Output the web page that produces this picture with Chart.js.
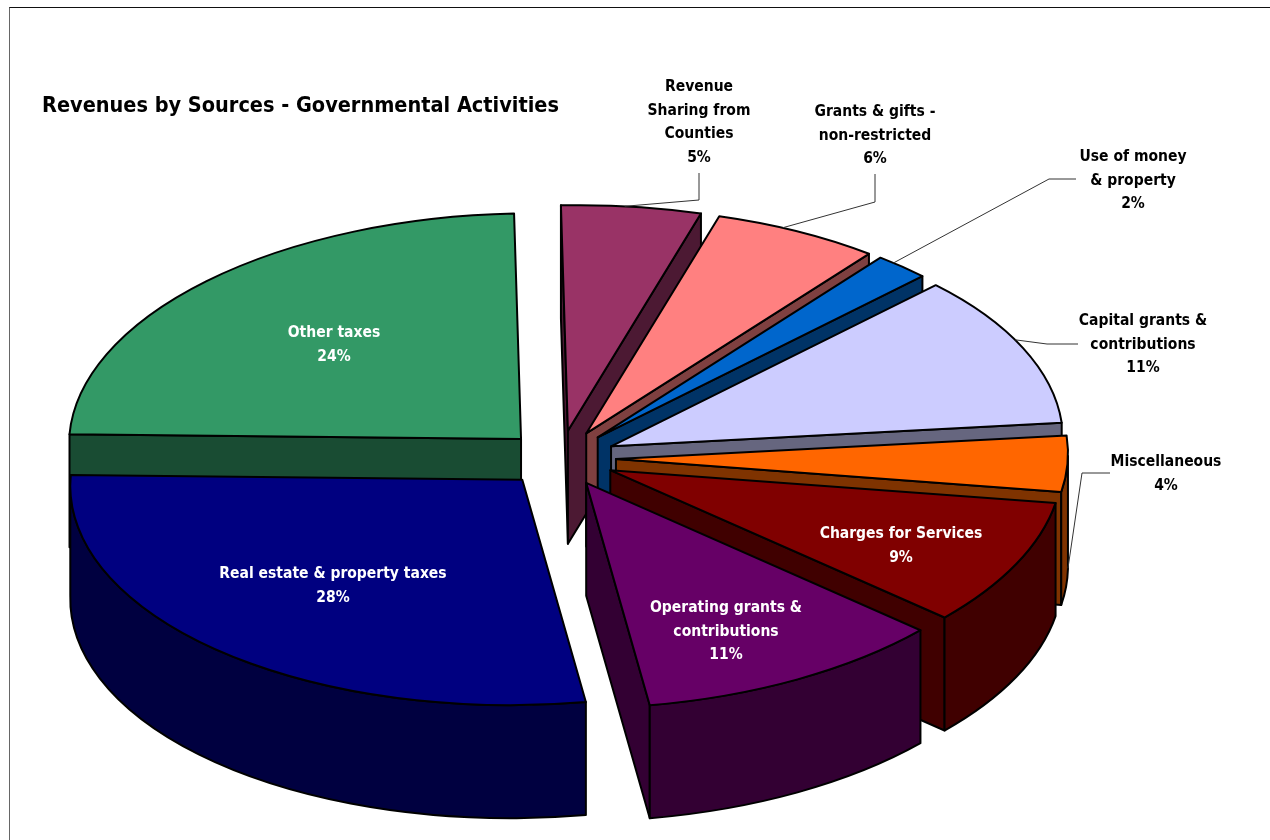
<!DOCTYPE html>
<html lang="en">
<head>
    <meta charset="UTF-8">
    <title>Revenues by Sources - Governmental Activities</title>
    <script src="https://cdn.jsdelivr.net/npm/chart.js"></script>
    <style>
        html, body { margin: 0; padding: 0; background: #fff; overflow: hidden; }
        #wrap { position: relative; width: 1270px; height: 840px; }
        #frame { position: absolute; left: 9px; top: 7px; right: 0; bottom: 0;
                 border-left: 1px solid #666; border-top: 1px solid #111; }
        canvas { position: absolute; left: 0; top: 0; }
    </style>
</head>
<body>
    <div id="wrap">
        <div id="frame"></div>
        <canvas id="revenueChart" width="1270" height="840"></canvas>
    </div>

    <script>
        const chartTitle = 'Revenues by Sources - Governmental Activities';
        const sources = [
            'Real estate & property taxes', 'Other taxes', 'Revenue Sharing from Counties',
            'Grants & gifts - non-restricted', 'Use of money & property',
            'Capital grants & contributions', 'Miscellaneous', 'Charges for Services',
            'Operating grants & contributions'
        ];
        const percents = [28, 24, 5, 6, 2, 11, 4, 9, 11];
        const sliceColors = ['#000080', '#339966', '#993366', '#FF8080', '#0066CC',
                             '#CCCCFF', '#FF6600', '#800000', '#660066'];
        const labelLines = [
            ['Real estate & property taxes'], ['Other taxes'], ['Revenue', 'Sharing from', 'Counties'],
            ['Grants & gifts -', 'non-restricted'], ['Use of money', '& property'],
            ['Capital grants &', 'contributions'], ['Miscellaneous'], ['Charges for Services'],
            ['Operating grants &', 'contributions']
        ];

        // where each label block goes (centre x, first line y), white ones sit on the slice.
        // along = how far round the slice's rim the leader line starts
        const labelSpots = [
            { x: 333, y: 574, inside: true }, { x: 334, y: 333, inside: true },
            { x: 699, y: 87, along: 0.45, elbow: [[699, 200], [699, 173]] },
            { x: 875, y: 112, along: 0.4, elbow: [[875, 202], [875, 174]] },
            { x: 1133, y: 157, along: 0.3, elbow: [[1049, 179], [1076, 179]] },
            { x: 1143, y: 321, along: 0.44, elbow: [[1047, 344], [1078, 344]] },
            { x: 1166, y: 462, along: 0.35, elbow: [[1082, 473], [1110, 473]], onBase: true },
            { x: 901, y: 534, inside: true },
            { x: 726, y: 608, inside: true }
        ];

        const pieX = 560, pieY = 458.5;
        const pieRadius = 452, depth = 113, explode = 56;
        // flat disc to screen: x' = x + tiltX * y, y' = tiltY * x + squash * y
        const squash = 0.499, tiltX = -0.0125, tiltY = -0.007;
        const lineGap = 23.5;
        const labelFont = 'bold 15.5px "DejaVu Sans Condensed"';

        function halfTone(hex) {
            const n = parseInt(hex.slice(1), 16);
            const r = (n >> 16) >> 1, g = ((n >> 8) & 255) >> 1, b = (n & 255) >> 1;
            return `rgb(${r}, ${g}, ${b})`;
        }

        function midAngle(arc) {
            return (arc.startAngle + arc.endAngle) / 2;
        }

        function flatten(angle, radius) {
            const u = Math.cos(angle) * radius, v = Math.sin(angle) * radius;
            return { x: u + tiltX * v, y: tiltY * u + squash * v };
        }

        // apex of an exploded slice in screen space
        function apexOf(arc) {
            const shift = flatten(midAngle(arc), explode);
            return { x: pieX + shift.x, y: pieY + shift.y };
        }

        function rimPoint(arc, angle, drop) {
            const apex = apexOf(arc);
            const rim = flatten(angle, arc.outerRadius);
            return { x: apex.x + rim.x, y: apex.y + rim.y + drop };
        }

        // sets up the flattened disc space with the given point as origin
        function discSpace(ctx, origin, drop) {
            ctx.transform(1, tiltY, tiltX, squash, origin.x, origin.y + drop);
        }

        function paintPath(ctx, fill) {
            ctx.fillStyle = fill;
            ctx.fill();
            ctx.stroke();
        }

        function drawRadialFace(ctx, arc, angle, fill) {
            const apex = apexOf(arc);
            const rim = rimPoint(arc, angle, 0);
            ctx.beginPath();
            ctx.moveTo(apex.x, apex.y);
            ctx.lineTo(rim.x, rim.y);
            ctx.lineTo(rim.x, rim.y + depth);
            ctx.lineTo(apex.x, apex.y + depth);
            ctx.closePath();
            paintPath(ctx, fill);
        }

        // curved outer wall, only the part that faces the viewer
        function drawOuterWall(ctx, arc, fill) {
            const apex = apexOf(arc);
            for (let k = -1; k <= 2; k++) {
                const from = Math.max(arc.startAngle, k * 2 * Math.PI);
                const to = Math.min(arc.endAngle, k * 2 * Math.PI + Math.PI);
                if (to <= from) continue;
                ctx.beginPath();
                ctx.save();
                discSpace(ctx, apex, 0);
                ctx.arc(0, 0, arc.outerRadius, from, to);
                ctx.restore();
                ctx.save();
                discSpace(ctx, apex, depth);
                ctx.arc(0, 0, arc.outerRadius, to, from, true);
                ctx.restore();
                ctx.closePath();
                paintPath(ctx, fill);
            }
        }

        function outlineTop(ctx, arc) {
            ctx.beginPath();
            ctx.save();
            discSpace(ctx, apexOf(arc), 0);
            ctx.moveTo(0, 0);
            ctx.arc(0, 0, arc.outerRadius, arc.startAngle, arc.endAngle);
            ctx.closePath();
            ctx.restore();
            ctx.stroke();
        }

        const solidPie = {
            id: 'solidPie',
            beforeDatasetDraw(chart, args) {
                const ctx = chart.ctx;
                const arcs = args.meta.data.map((arc, i) => ({ arc, i }));
                // back slices first so the front ones cover them
                arcs.sort((a, b) => Math.sin(midAngle(a.arc)) - Math.sin(midAngle(b.arc)));

                ctx.save();
                ctx.strokeStyle = '#000';
                ctx.lineWidth = 2;
                ctx.lineJoin = 'round';
                arcs.forEach(({ arc, i }) => {
                    const wall = halfTone(sliceColors[i]);
                    // a cut face only shows when it turns towards the viewer
                    if (Math.cos(arc.startAngle) < 0) drawRadialFace(ctx, arc, arc.startAngle, wall);
                    if (Math.cos(arc.endAngle) > 0) drawRadialFace(ctx, arc, arc.endAngle, wall);
                    drawOuterWall(ctx, arc, wall);

                    ctx.save();
                    discSpace(ctx, apexOf(arc), 0);
                    ctx.translate(-arc.x, -arc.y);
                    arc.draw(ctx);
                    ctx.restore();
                    outlineTop(ctx, arc);
                });
                ctx.restore();
                return false;
            },
            afterDraw(chart) {
                const ctx = chart.ctx;
                const arcs = chart.getDatasetMeta(0).data;
                ctx.save();

                ctx.strokeStyle = '#333';
                ctx.lineWidth = 1;
                labelSpots.forEach((spot, i) => {
                    if (!spot.elbow) return;
                    const arc = arcs[i];
                    const angle = arc.startAngle + (arc.endAngle - arc.startAngle) * spot.along;
                    const start = rimPoint(arc, angle, spot.onBase ? depth : 0);
                    ctx.beginPath();
                    ctx.moveTo(start.x, start.y);
                    spot.elbow.forEach(p => ctx.lineTo(p[0], p[1]));
                    ctx.stroke();
                });

                ctx.textAlign = 'center';
                ctx.textBaseline = 'middle';
                ctx.font = labelFont;
                labelSpots.forEach((spot, i) => {
                    ctx.fillStyle = spot.inside ? '#fff' : '#000';
                    labelLines[i].concat(percents[i] + '%').forEach((line, n) => {
                        ctx.fillText(line, spot.x, spot.y + n * lineGap);
                    });
                });

                ctx.textAlign = 'left';
                ctx.fillStyle = '#000';
                ctx.font = 'bold 21.5px "DejaVu Sans Condensed"';
                ctx.fillText(chartTitle, 42, 106);
                ctx.restore();
            }
        };

        new Chart(document.getElementById('revenueChart'), {
            type: 'pie',
            data: {
                labels: sources,
                datasets: [{
                    data: percents,
                    backgroundColor: sliceColors,
                    borderWidth: 0
                }]
            },
            options: {
                responsive: false,
                animation: false,
                radius: pieRadius,
                rotation: 171.2,
                layout: { padding: { right: 1270 - 2 * pieX } },
                plugins: {
                    legend: { display: false },
                    tooltip: { enabled: false }
                }
            },
            plugins: [solidPie]
        });
    </script>
</body>
</html>
